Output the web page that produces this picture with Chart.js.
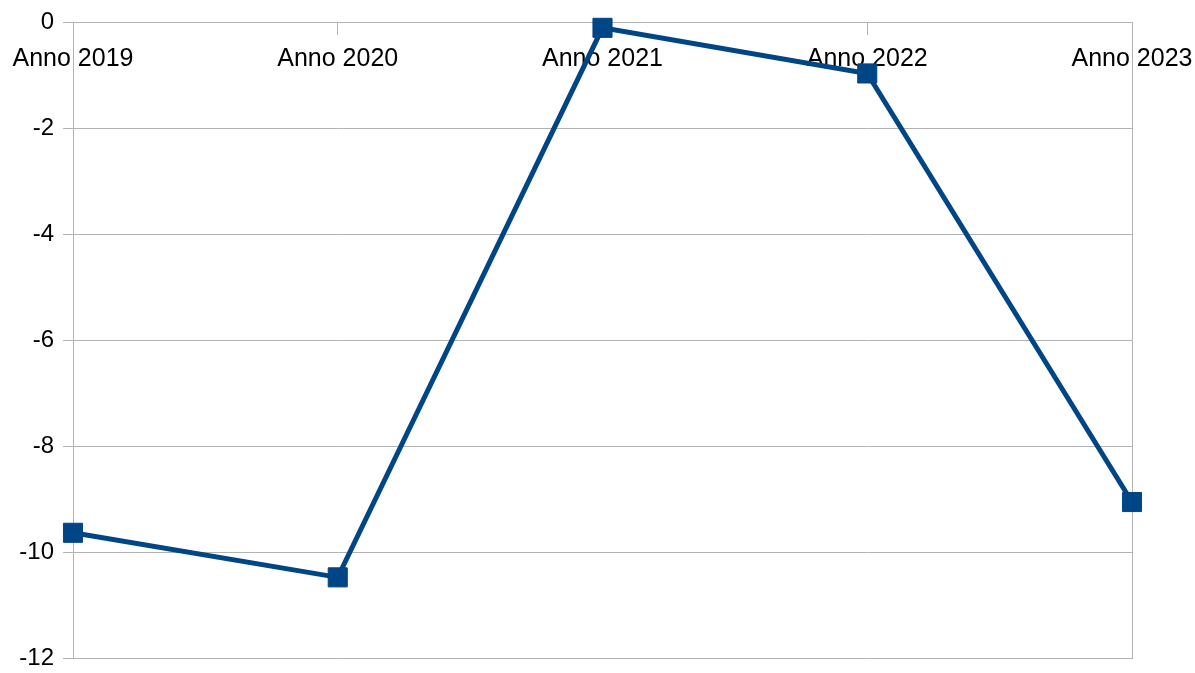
<!DOCTYPE html>
<html>
<head>
<meta charset="utf-8">
<script src="https://cdn.jsdelivr.net/npm/chart.js@4/dist/chart.umd.min.js"></script>
<style>
html,body{margin:0;padding:0;background:#fff;}
#wrap{width:1195px;height:673px;position:relative;}
</style>
</head>
<body>
<div id="wrap"><canvas id="c" width="1195" height="673"></canvas></div>
<script>
const categories = ["Anno 2019", "Anno 2020", "Anno 2021", "Anno 2022", "Anno 2023"];
const seriesValues = [-9.63, -10.47, -0.11, -0.97, -9.05];
const yMin = -12;
const yMax = 0;
const yStep = 2;

const gridColor = '#b3b3b3';
const fontFamily = '"Liberation Sans", Arial, sans-serif';

function noPad(s) {
  s.paddingLeft = 0; s.paddingRight = 0; s.paddingTop = 0; s.paddingBottom = 0;
}

new Chart(document.getElementById('c'), {
  type: 'line',
  data: {
    labels: categories,
    datasets: [{
      data: seriesValues,
      borderColor: '#004586',
      backgroundColor: '#004586',
      borderWidth: 5,
      pointStyle: 'rect',
      pointRadius: 13.5,
      pointHoverRadius: 13.5,
      pointBorderWidth: 1,
      pointBorderColor: '#004586',
      pointBackgroundColor: '#004586',
      tension: 0,
      fill: false,
      clip: false
    }]
  },
  options: {
    responsive: false,
    animation: false,
    events: [],
    layout: { padding: { left: 0, top: 22, right: 63, bottom: 13 } },
    plugins: { legend: { display: false }, tooltip: { enabled: false } },
    scales: {
      x: {
        type: 'category',
        position: { y: 0 },
        offset: false,
        grid: { display: true, drawOnChartArea: false, drawTicks: true, tickLength: 12, color: gridColor, lineWidth: 1 },
        border: { display: true, color: gridColor, width: 1 },
        ticks: { color: '#000', font: { family: fontFamily, size: 25 }, padding: 10, maxRotation: 0, autoSkip: false },
        afterFit: (s) => { s.height = 0; noPad(s); }
      },
      y: {
        position: 'left',
        min: yMin,
        max: yMax,
        ticks: { stepSize: yStep, color: '#000', font: { family: fontFamily, size: 24, lineHeight: 0.8 }, padding: 9 },
        grid: { color: gridColor, lineWidth: 1, tickLength: 10, drawTicks: true },
        border: { display: true, color: gridColor, width: 1 },
        afterFit: (s) => { s.width = 73; noPad(s); }
      },
      y2: {
        position: 'right',
        min: yMin,
        max: yMax,
        ticks: { display: false },
        grid: { drawOnChartArea: false, drawTicks: false },
        border: { display: true, color: gridColor, width: 1 },
        afterFit: (s) => { s.width = 0; noPad(s); }
      }
    }
  }
});
</script>
</body>
</html>
